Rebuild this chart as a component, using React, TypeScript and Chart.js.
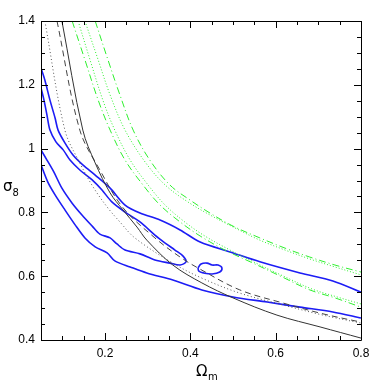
import React, { useEffect, useRef } from "react";
import { Chart, registerables } from "chart.js";

Chart.register(...registerables);

// ---- data (Omega_m, sigma_8) ----
const solidOmega = [0.099, 0.148, 0.177, 0.212, 0.242, 0.275, 0.298, 0.359, 0.427, 0.5, 0.603, 0.704, 0.8];
const solidSigma = [1.4, 1.058, 0.955, 0.861, 0.808, 0.754, 0.713, 0.635, 0.579, 0.532, 0.478, 0.441, 0.406];

const dashedOmega = [0.0875, 0.141, 0.188, 0.242, 0.317, 0.376, 0.423, 0.516, 0.617, 0.711, 0.8];
const dashedSigma = [1.4, 1.058, 0.933, 0.815, 0.72, 0.66, 0.622, 0.557, 0.516, 0.482, 0.456];

const dottedOmega = [0.059, 0.106, 0.141, 0.172, 0.205, 0.235, 0.27, 0.359, 0.427, 0.516, 0.617, 0.711, 0.8];
const dottedSigma = [1.4, 1.058, 0.955, 0.88, 0.817, 0.77, 0.72, 0.641, 0.594, 0.547, 0.51, 0.478, 0.453];

const outerUpperOmega = [0.05, 0.059, 0.071, 0.083, 0.09, 0.106, 0.125, 0.148, 0.177, 0.212, 0.247, 0.282, 0.329, 0.376, 0.423, 0.493, 0.563, 0.657, 0.734, 0.8];
const outerUpperSigma = [1.253, 1.215, 1.152, 1.096, 1.058, 1.018, 0.98, 0.949, 0.917, 0.876, 0.823, 0.798, 0.776, 0.745, 0.707, 0.676, 0.645, 0.61, 0.585, 0.55];

const outerLowerOmega = [0.05, 0.066, 0.083, 0.106, 0.13, 0.153, 0.177, 0.205, 0.223, 0.259, 0.298, 0.359, 0.427, 0.5, 0.58, 0.657, 0.734, 0.8];
const outerLowerSigma = [0.949, 0.895, 0.855, 0.808, 0.761, 0.72, 0.692, 0.673, 0.648, 0.629, 0.61, 0.588, 0.557, 0.535, 0.519, 0.503, 0.488, 0.469];

const innerOmega = [0.05, 0.057, 0.064, 0.071, 0.085, 0.102, 0.118, 0.141, 0.17, 0.193, 0.216, 0.247, 0.282, 0.317, 0.341, 0.364, 0.383, 0.39, 0.376, 0.352, 0.317, 0.282, 0.247, 0.228, 0.212, 0.188, 0.17, 0.146, 0.123, 0.099, 0.08, 0.064, 0.05];
const innerSigma = [1.19, 1.152, 1.105, 1.058, 1.021, 0.996, 0.964, 0.933, 0.902, 0.87, 0.833, 0.801, 0.77, 0.729, 0.704, 0.682, 0.663, 0.645, 0.635, 0.641, 0.651, 0.67, 0.682, 0.701, 0.72, 0.732, 0.757, 0.792, 0.829, 0.876, 0.927, 0.964, 0.996];

const islandOmega = [0.418, 0.425, 0.439, 0.451, 0.465, 0.474, 0.469, 0.451, 0.432, 0.42, 0.418];
const islandSigma = [0.626, 0.638, 0.641, 0.635, 0.635, 0.626, 0.613, 0.607, 0.61, 0.616, 0.626];

const greenLowDashOmega = [0.123, 0.153, 0.184, 0.212, 0.247, 0.289, 0.329, 0.376, 0.423, 0.481, 0.547, 0.61, 0.68, 0.739, 0.8];
const greenLowDashSigma = [1.4, 1.278, 1.152, 1.058, 0.964, 0.886, 0.823, 0.77, 0.726, 0.682, 0.641, 0.601, 0.557, 0.532, 0.503];

const greenLowDotOmega = [0.137, 0.165, 0.195, 0.223, 0.259, 0.301, 0.341, 0.387, 0.434, 0.493, 0.554, 0.617, 0.685, 0.744, 0.8];
const greenLowDotSigma = [1.4, 1.278, 1.152, 1.058, 0.964, 0.886, 0.823, 0.77, 0.726, 0.682, 0.641, 0.601, 0.56, 0.535, 0.513];

const greenHighDashOmega = [0.177, 0.207, 0.235, 0.266, 0.305, 0.352, 0.399, 0.446, 0.5, 0.563, 0.622, 0.68, 0.739, 0.8];
const greenHighDashSigma = [1.4, 1.278, 1.168, 1.058, 0.964, 0.886, 0.839, 0.798, 0.757, 0.72, 0.688, 0.66, 0.635, 0.613];

const greenHighDotOmega = [0.153, 0.184, 0.212, 0.247, 0.294, 0.341, 0.394, 0.446, 0.505, 0.563, 0.622, 0.68, 0.739, 0.8];
const greenHighDotSigma = [1.4, 1.278, 1.168, 1.058, 0.958, 0.886, 0.833, 0.792, 0.751, 0.713, 0.682, 0.654, 0.629, 0.604];

const xLabelValues = [0.2, 0.4, 0.6, 0.8];
const yLabelValues = [0.4, 0.6, 0.8, 1, 1.2, 1.4];

const zip = (xs: number[], ys: number[]) => xs.map((x, i) => ({ x, y: ys[i] }));

const BLUE = "#1c1cf5";
const GREEN = "#2ef02e";

const isLabel = (v: number, list: number[]) => list.some((l) => Math.abs(l - v) < 1e-6);

const framePlugin = {
  id: "frameTicks",
  afterDraw(chart: any) {
    const { ctx, chartArea: a, scales } = chart;
    const xs = scales.x;
    const ys = scales.y;
    ctx.save();
    ctx.strokeStyle = "#000";
    ctx.lineWidth = 1;
    ctx.beginPath();
    ctx.rect(Math.round(a.left) + 0.5, Math.round(a.top) + 0.5, Math.round(a.right - a.left), Math.round(a.bottom - a.top));
    ctx.stroke();
    ctx.beginPath();
    xs.ticks.forEach((t: any) => {
      const px = Math.round(xs.getPixelForValue(t.value)) + 0.5;
      const len = isLabel(t.value, xLabelValues) ? 7 : 4;
      ctx.moveTo(px, a.bottom);
      ctx.lineTo(px, a.bottom - len);
      ctx.moveTo(px, a.top);
      ctx.lineTo(px, a.top + len);
    });
    ys.ticks.forEach((t: any) => {
      const py = Math.round(ys.getPixelForValue(t.value)) + 0.5;
      const len = isLabel(t.value, yLabelValues) ? 7 : 4;
      ctx.moveTo(a.left, py);
      ctx.lineTo(a.left + len, py);
      ctx.moveTo(a.right, py);
      ctx.lineTo(a.right - len, py);
    });
    ctx.stroke();

    // axis titles with subscripts
    ctx.fillStyle = "#000";
    ctx.textBaseline = "alphabetic";
    ctx.textAlign = "left";
    ctx.font = "15px 'DejaVu Sans'";
    const cx = (a.left + a.right) / 2;
    ctx.fillText("Ω", cx - 5, 376);
    const ow = ctx.measureText("Ω").width;
    ctx.font = "10px 'DejaVu Sans'";
    ctx.fillText("m", cx - 5 + ow + 0.5, 380);

    ctx.font = "15px 'DejaVu Sans'";
    ctx.fillText("σ", 3, 191);
    const sw = ctx.measureText("σ").width;
    ctx.font = "10px 'DejaVu Sans'";
    ctx.fillText("8", 3 + sw, 196);
    ctx.restore();
  },
};

export default function App() {
  const ref = useRef<HTMLCanvasElement | null>(null);
  useEffect(() => {
    if (!ref.current) return;
    const line = (data: any, color: string, width: number, dash: number[], tension = 0.35) => ({
      data,
      borderColor: color,
      borderWidth: width,
      borderDash: dash,
      showLine: true,
      pointRadius: 0,
      fill: false,
      tension,
    });
    const chart = new Chart(ref.current, {
      type: "scatter",
      data: {
        datasets: [
          line(zip(greenLowDashOmega, greenLowDashSigma), GREEN, 1, [7, 3, 1, 3]),
          line(zip(greenLowDotOmega, greenLowDotSigma), GREEN, 1, [1, 2]),
          line(zip(greenHighDashOmega, greenHighDashSigma), GREEN, 1, [7, 3, 1, 3]),
          line(zip(greenHighDotOmega, greenHighDotSigma), GREEN, 1, [1, 2]),
          line(zip(solidOmega, solidSigma), "#333", 1, []),
          line(zip(dashedOmega, dashedSigma), "#444", 1, [6, 4]),
          line(zip(dottedOmega, dottedSigma), "#555", 1, [1, 2.5]),
          line(zip(outerUpperOmega, outerUpperSigma), BLUE, 1.6, [], 0.3),
          line(zip(outerLowerOmega, outerLowerSigma), BLUE, 1.6, [], 0.3),
          line(zip(innerOmega, innerSigma), BLUE, 1.6, [], 0.3),
          line(zip(islandOmega, islandSigma), BLUE, 1.6, [], 0.4),
        ],
      },
      options: {
        animation: false,
        responsive: true,
        maintainAspectRatio: false,
        layout: { padding: { top: 21, right: 21, left: 0, bottom: 0 } },
        plugins: { legend: { display: false }, tooltip: { enabled: false } },
        scales: {
          x: {
            type: "linear",
            min: 0.05,
            max: 0.8,
            afterFit: (s: any) => {
              s.height = 42;
            },
            grid: { display: false, drawTicks: false },
            border: { display: false },
            ticks: {
              stepSize: 0.05,
              autoSkip: false,
              maxRotation: 0,
              padding: 6,
              color: "#000",
              font: { family: "'Liberation Sans', Arial, sans-serif", size: 12 },
              callback: (v: any) => (isLabel(Number(v), xLabelValues) ? Number(v).toFixed(1) : ""),
            },
          },
          y: {
            type: "linear",
            min: 0.4,
            max: 1.4,
            afterFit: (s: any) => {
              s.width = 41;
            },
            grid: { display: false, drawTicks: false },
            border: { display: false },
            ticks: {
              stepSize: 0.05,
              autoSkip: false,
              padding: 6,
              color: "#000",
              font: { family: "'Liberation Sans', Arial, sans-serif", size: 12 },
              callback: (v: any) =>
                isLabel(Number(v), yLabelValues) ? (Math.abs(Number(v) - 1) < 1e-6 ? "1" : Number(v).toFixed(1)) : "",
            },
          },
        },
      },
      plugins: [framePlugin],
    });
    return () => chart.destroy();
  }, []);
  return (
    <div style={{ position: "absolute", left: 0, top: 0, width: 382, height: 382 }}>
      <canvas ref={ref} />
    </div>
  );
}
